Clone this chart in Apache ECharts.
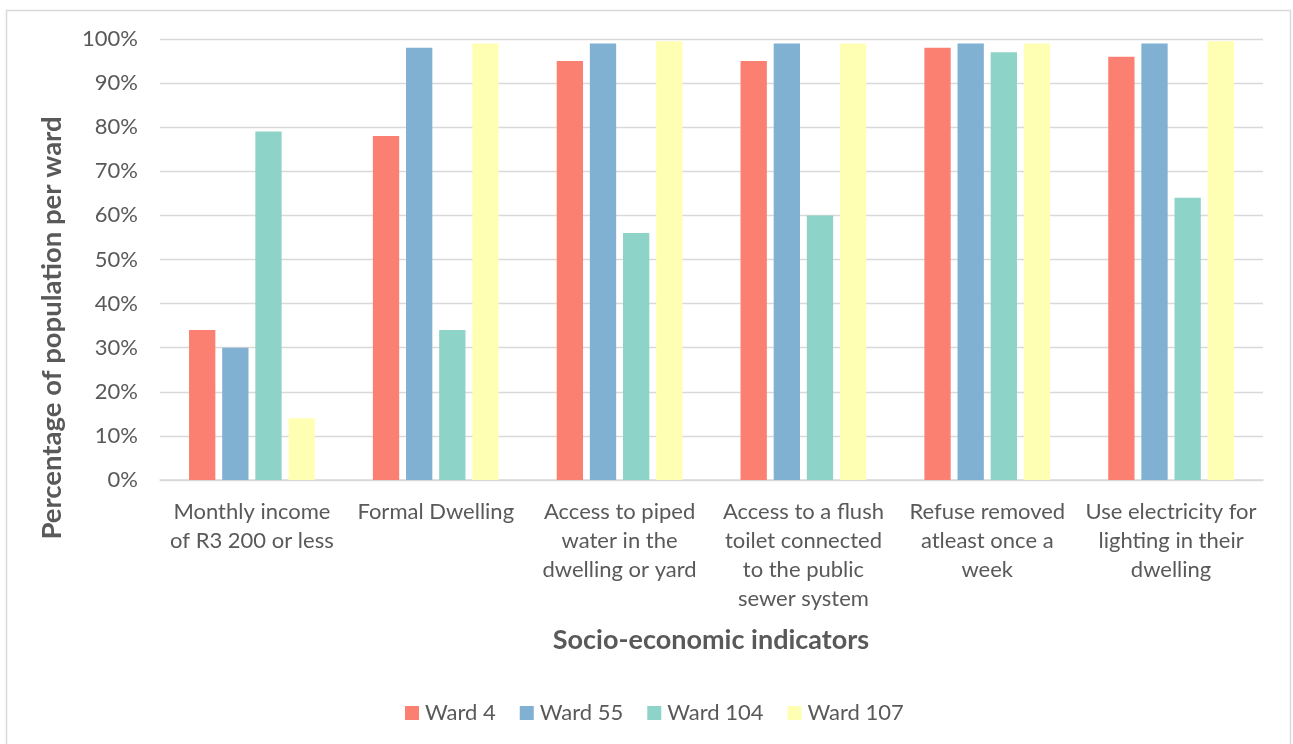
<!DOCTYPE html>
<html>
<head>
<meta charset="utf-8">
<script src="https://cdn.jsdelivr.net/npm/echarts@6/dist/echarts.min.js"></script>
<style>
html,body{margin:0;padding:0;background:#fff;}
#chart{width:1293px;height:744px;}
</style>
</head>
<body>
<div id="chart"></div>
<script>
const categories = [
  'Monthly income\nof R3 200 or less',
  'Formal Dwelling',
  'Access to piped\nwater in the\ndwelling or yard',
  'Access to a flush\ntoilet connected\nto the public\nsewer system',
  'Refuse removed\natleast once a\nweek',
  'Use electricity for\nlighting in their\ndwelling'
];
const seriesNames = ['Ward 4', 'Ward 55', 'Ward 104', 'Ward 107'];
const ward4 = [34, 78, 95, 95, 98, 96];
const ward55 = [30, 98, 99, 99, 99, 99];
const ward104 = [79, 34, 56, 60, 97, 64];
const ward107 = [14, 99, 99.5, 99, 99, 99.5];
const yTicks = [0, 10, 20, 30, 40, 50, 60, 70, 80, 90, 100];
const colors = ['#FB8072', '#80B1D3', '#8DD3C7', '#FFFFB3'];

const FONT = 'Lato';
const TXT = '#595959';
const chart = echarts.init(document.getElementById('chart'), null, {renderer: 'canvas'});
const values = [ward4, ward55, ward104, ward107];
chart.setOption({
  backgroundColor: '#fff',
  animation: false,
  color: colors,
  textStyle: {fontFamily: FONT, color: TXT},
  grid: {left: 160, right: 30, top: 39, bottom: 264, containLabel: false},
  legend: {
    data: seriesNames,
    bottom: 15,
    left: 400,
    itemWidth: 14, itemHeight: 14, itemGap: 24,
    icon: 'rect',
    textStyle: {fontFamily: FONT, fontSize: 22, color: TXT, padding: [0, 0, 0, 1]}
  },
  xAxis: {
    type: 'category',
    data: categories,
    axisTick: {show: false},
    axisLine: {lineStyle: {color: '#d9d9d9', width: 1.5}},
    axisLabel: {fontFamily: FONT, fontSize: 22, color: TXT, lineHeight: 29, margin: 17, interval: 0, align: 'center'}
  },
  yAxis: {
    type: 'value',
    min: yTicks[0], max: yTicks[yTicks.length - 1], interval: 10,
    axisLine: {show: false},
    axisTick: {show: false},
    splitLine: {lineStyle: {color: '#d9d9d9', width: 1.3}},
    axisLabel: {fontFamily: FONT, fontSize: 22, color: TXT, margin: 22, formatter: '{value}%'}
  },
  graphic: [
    {type: 'rect', shape: {x: 6.5, y: 10.5, width: 1284, height: 760}, style: {fill: 'none', stroke: '#d9d9d9', lineWidth: 1.5}, silent: true},
    {type: 'text', x: 711, y: 640, style: {text: 'Socio-economic indicators', font: 'bold 27px ' + FONT, fill: TXT, textAlign: 'center', textVerticalAlign: 'middle'}},
    {type: 'text', x: 52, y: 328, rotation: Math.PI / 2, style: {text: 'Percentage of population per ward', font: 'bold 27.5px ' + FONT, fill: TXT, textAlign: 'center', textVerticalAlign: 'middle'}}
  ],
  series: seriesNames.map((n, i) => ({
    name: n,
    type: 'bar',
    data: values[i],
    barGap: '26%',
    barCategoryGap: '31.6%',
    itemStyle: {color: colors[i]}
  }))
});
</script>
</body>
</html>
